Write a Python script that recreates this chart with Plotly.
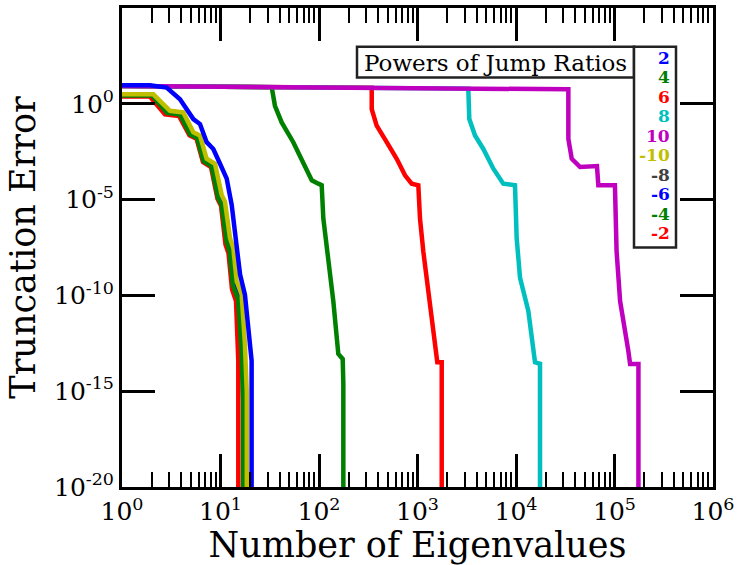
import plotly.graph_objects as go

# ---- data: truncation error vs. number of retained eigenvalues ----
# positive powers of the jump ratio
n_p2 = [1.0, 1.92, 2.84, 3.88, 5.30, 6.19, 7.24, 8.45, 9.89, 11.56, 13.0, 14.0, 15.8, 17.7, 19.2, 20.7, 20.7]
err_p2 = [9.2, 9.2, 7.0, 1.73, 0.159, 0.0877, 9.9e-3, 4.4e-3, 7.4e-4, 1.24e-4, 5.2e-6, 1.45e-7, 1.22e-9, 1.1e-10, 2.1e-12, 3.9e-14, 1e-25]

n_p4 = [1.0, 10.0, 33.1, 35.7, 41.8, 54.8, 69.3, 84.4, 98.4, 106.5, 110.6, 124.3, 139.7, 157, 174, 176.6, 176.6]
err_p4 = [8.5, 7.8, 7.4, 0.79, 0.107, 9.9e-3, 9.1e-4, 1.02e-4, 6.8e-5, 5.6e-5, 1.05e-6, 6e-9, 5.1e-11, 8.8e-14, 4.8e-14, 2.5e-15, 1e-25]

n_p6 = [1.0, 10, 100, 343, 343, 385, 487, 615, 747, 873, 1019, 1060, 1145, 1288, 1506, 1589, 1762, 1762]
err_p6 = [8.5, 7.8, 7.1, 6.8, 0.525, 0.0725, 9.9e-3, 1.35e-3, 1.86e-4, 6.8e-5, 5.6e-5, 1.05e-6, 2e-8, 1.1e-10, 1.3e-13, 3.2e-14, 3.2e-14, 1e-25]

n_p8 = [1, 10, 100, 1000, 3280, 3357, 3837, 4660, 5890, 7430, 9770, 10160, 10990, 13340, 14990, 15590, 17530, 17530]
err_p8 = [8.5, 7.8, 7.1, 6.5, 6.2, 0.159, 0.022, 4.4e-3, 4.1e-4, 6.8e-5, 5.6e-5, 9.6e-8, 8.2e-10, 1.54e-11, 1.3e-13, 3.2e-14, 2.7e-14, 1e-25]

n_p10 = [1, 10, 100, 1000, 10000, 34000, 34000, 36800, 44700, 66400, 68500, 101000, 105000, 114000, 138000, 144000, 175000, 175000]
err_p10 = [8.5, 7.8, 7.1, 6.5, 6.0, 5.7, 1.47e-2, 1.35e-3, 5.0e-4, 5.6e-4, 5.6e-5, 5.6e-5, 2e-8, 5e-11, 1.3e-13, 2.6e-14, 2.6e-14, 1e-25]

# negative powers of the jump ratio
n_m10 = [1.0, 2.08, 3.07, 4.19, 5.30, 6.19, 7.24, 8.79, 10.3, 11.1, 12.5, 13.5, 14.6, 16.4, 17.7, 18.5, 18.5]
err_m10 = [3.14, 3.14, 0.434, 0.354, 0.0326, 0.022, 1.35e-3, 7.4e-4, 1.7e-5, 7.7e-6, 9.6e-8, 2.9e-8, 5.5e-10, 1.1e-10, 2.9e-13, 7.4e-16, 1e-25]

n_m8 = [1.0, 2.05, 3.02, 4.12, 5.2, 6.08, 7.1, 8.6, 10.1, 10.9, 12.3, 13.2, 14.3, 16.1, 17.4, 18.1, 18.1]
err_m8 = [3.0, 3.0, 0.41, 0.33, 0.031, 0.021, 1.25e-3, 7.0e-4, 1.6e-5, 7.2e-6, 9e-8, 2.7e-8, 5e-10, 1e-10, 2.6e-13, 6.8e-16, 1e-25]

n_m6 = [1.0, 2.03, 2.98, 4.05, 5.12, 5.98, 6.98, 8.45, 9.9, 10.7, 12.0, 13.0, 14.0, 15.8, 17.1, 17.8, 17.8]
err_m6 = [2.9, 2.9, 0.38, 0.31, 0.029, 0.019, 1.15e-3, 6.4e-4, 1.45e-5, 6.6e-6, 8e-8, 2.4e-8, 4.2e-10, 8.5e-11, 2.0e-13, 5e-16, 1e-25]

n_m4 = [1.0, 2.02, 2.86, 3.88, 4.90, 5.77, 6.72, 8.10, 9.43, 10.24, 11.51, 12.34, 13.40, 15.06, 16.34, 16.92, 16.92]
err_m4 = [2.69, 2.69, 0.334, 0.279, 0.0257, 0.0169, 1.02e-3, 5.6e-4, 1.24e-5, 5.4e-6, 6.5e-8, 1.97e-8, 3.0e-10, 6.4e-11, 1.3e-13, 3.3e-16, 1e-25]

n_m2 = [1.0, 1.92, 2.73, 3.79, 4.84, 5.71, 6.64, 8.01, 9.32, 10.12, 11.24, 12.06, 13.09, 14.37, 15.16, 15.16]
err_m2 = [2.39, 2.39, 0.279, 0.233, 0.0228, 0.015, 9.1e-4, 5.0e-4, 1.1e-5, 4.8e-6, 4.5e-8, 1.56e-8, 2.1e-10, 5.1e-11, 3.9e-14, 1e-25]

# legend entries (top to bottom) and their colours
legend_labels = ["2", "4", "6", "8", "10", "-10", "-8", "-6", "-4", "-2"]
legend_colors = ["#0000ff", "#008000", "#ff0000", "#00bfbf", "#bf00bf",
                 "#bfbf00", "#404040", "#0000ff", "#008000", "#ff0000"]

x_tick_exps = [0, 1, 2, 3, 4, 5, 6]
y_tick_exps = [5, 0, -5, -10, -15, -20]

# ---- series, in drawing order (later ones on top) ----
series = [
    ("4", n_p4, err_p4),
    ("6", n_p6, err_p6),
    ("8", n_p8, err_p8),
    ("10", n_p10, err_p10),
    ("-8", n_m8, err_m8),
    ("-6", n_m6, err_m6),
    ("-2", n_m2, err_m2),
    ("-4", n_m4, err_m4),
    ("-10", n_m10, err_m10),
    ("2", n_p2, err_p2),
]
color_of = dict(zip(legend_labels, legend_colors))

FONT = "DejaVu Serif"

fig = go.Figure()
for name, xs, ys in series:
    fig.add_trace(go.Scatter(
        x=xs, y=ys, mode="lines", name=name,
        line=dict(color=color_of[name], width=4.5),
        showlegend=False,
    ))

# plot-area geometry in pixels (used to place the legend boxes)
W, H = 746, 565
ML, MR, MT, MB = 122, 33, 5, 78
PW, PH = W - ML - MR, H - MT - MB


def px_x(px):
    return (px - ML) / PW


def px_y(py):
    return (H - MB - py) / PH


minor_x = [k * 10 ** d for d in range(0, 6) for k in range(2, 10)]


def power_label(e):
    return f"10<sup>{e}</sup>"


fig.update_layout(
    width=W, height=H,
    margin=dict(l=ML, r=MR, t=MT, b=MB),
    paper_bgcolor="white", plot_bgcolor="white",
    font=dict(family=FONT, color="black"),
    xaxis=dict(
        type="log", range=[0, 6],
        tickmode="array",
        tickvals=[10 ** e for e in x_tick_exps],
        ticktext=[power_label(e) for e in x_tick_exps],
        tickfont=dict(size=25, family=FONT),
        ticks="inside", ticklen=33, tickwidth=2.5, tickcolor="black",
        minor=dict(tickmode="array", tickvals=minor_x, ticks="inside",
                   ticklen=15, tickwidth=2, tickcolor="black", showgrid=False),
        showline=True, linewidth=3, linecolor="black", mirror="allticks",
        showgrid=False, zeroline=False,
        title=dict(text="Number of Eigenvalues", font=dict(size=35, family=FONT), standoff=4),
    ),
    yaxis=dict(
        type="log", range=[-20, 5],
        tickmode="array",
        tickvals=[10.0 ** e for e in y_tick_exps],
        ticktext=[power_label(e) for e in y_tick_exps],
        tickfont=dict(size=25, family=FONT),
        ticks="inside", ticklen=33, tickwidth=2.5, tickcolor="black",
        showline=True, linewidth=3, linecolor="black", mirror="allticks",
        showgrid=False, zeroline=False,
        title=dict(text="Truncation Error", font=dict(size=35, family=FONT), standoff=8),
    ),
)

# legend: title box plus a column of coloured power labels
box_line = dict(color="#222222", width=2.5)
fig.add_shape(type="rect", xref="paper", yref="paper",
              x0=px_x(357), x1=px_x(634), y0=px_y(75), y1=px_y(44),
              line=box_line, fillcolor="white", layer="above")
fig.add_shape(type="rect", xref="paper", yref="paper",
              x0=px_x(634), x1=px_x(676), y0=px_y(246), y1=px_y(44),
              line=box_line, fillcolor="white", layer="above")
fig.add_annotation(xref="paper", yref="paper", x=px_x(495.5), y=px_y(60),
                   text="Powers of Jump Ratios", showarrow=False,
                   font=dict(size=23, family=FONT, color="black"),
                   xanchor="center", yanchor="middle")
for i, (lab, col) in enumerate(zip(legend_labels, legend_colors)):
    fig.add_annotation(xref="paper", yref="paper",
                       x=px_x(672), y=px_y(55 + 19.6 * i),
                       text=f"<b>{lab}</b>", showarrow=False,
                       font=dict(size=17, family=FONT, color=col),
                       xanchor="right", yanchor="middle")

fig.write_html("out.html")
